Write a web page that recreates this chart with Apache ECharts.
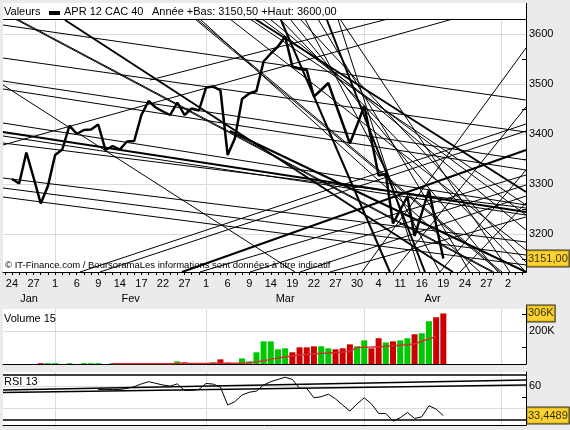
<!DOCTYPE html>
<html><head><meta charset="utf-8">
<script src="https://cdn.jsdelivr.net/npm/echarts@6/dist/echarts.min.js"></script>
<style>html,body{margin:0;padding:0;background:#ebebeb;}#c{width:570px;height:430px;}</style>
</head><body><div id="c"></div>
<script>
// ---- data ----
const tradingDays = [
 '01-23','01-24','01-25','01-26','01-27','01-30','01-31',
 '02-01','02-02','02-03','02-06','02-07','02-08','02-09','02-10','02-13','02-14','02-15','02-16','02-17','02-20','02-21','02-22','02-23','02-24','02-27','02-28','02-29',
 '03-01','03-02','03-05','03-06','03-07','03-08','03-09','03-12','03-13','03-14','03-15','03-16','03-19','03-20','03-21','03-22','03-23','03-26','03-27','03-28','03-29','03-30',
 '04-02','04-03','04-04','04-05','04-10','04-11','04-12','04-13','04-16','04-17','04-18','04-19','04-20','04-23','04-24','04-25','04-26','04-27','04-30',
 '05-01','05-02','05-03','05-04'];
const monthNames = {'01':'Jan','02':'Fev','03':'Mar','04':'Avr'};
const closePrice = [null,3310,3301,3363,3313,3261,3296,3358,3369,3417,3400,3408,3409,3419,3368,3376,3369,3385,3386,3438,3466,
 3453,3445,3438,3463,3438,3451,3447,3493,3495,3487,3358,3391,3470,3481,3486,3545,3561,3575,3595,3535,
 3530,3528,3475,3488,3502,3461,3421,3381,3418,3456,3388,3317,3320,3221,3248,3275,3196,3242,3288,3218,3151];
const volumeK = [null,null,null,null,null,5,5,5,null,5,null,5,5,5,null,5,null,null,null,null,null,null,null,null,
 16,10,null,null,null,10,28,8,6,34,16,71,137,137,89,95,71,101,101,107,107,95,89,95,119,107,143,95,156,131,137,143,156,180,186,259,283,306];
const volumeMA = [null,null,null,null,null,null,null,null,null,null,null,null,null,null,null,2,2,2,2,2,2,2,2,2,
 3,3,3,3,3,4,4,4,4,6,8,12,20,28,37,42,49,55,59,62,64,66,69,72,76,100,102,103,105,107,110,113,116,122,138,152,166];
const rsi = [null,null,null,null,null,null,null,null,null,null,null,null,null,57,57,57,57,58,59.5,62,64,62.5,61,60,62,
 56,56.2,57,62.4,61.8,59,43,46,52,54.5,55.5,61,64,66,68,66,58,57.9,49.5,50.4,52.8,48.5,43,37.5,44,49.5,44,35.4,35.4,28.5,31.5,36.3,30.9,32.4,42.3,39.3,33.4489];
const priceTicks = [3200,3300,3400,3500,3600];
const priceMinorTicks = [3150,3200,3250,3300,3350,3400,3450,3500,3550,3600];
const volumeTicks = [100,200,300];
const volumeLabels = [200];
const rsiTicks = [40,50,60];
const rsiLabels = [60];
const rsiGrid = [40,60];
const rsiBands = [70,30];
// trendlines [dayIdx1, value1, dayIdx2, value2]
const thinLines = [
 [-0.25,3618,72.5,3468],[-0.25,3552,72.5,3404],[-0.25,3506,72.5,3348],[-0.25,3490,72.5,3328],
 [-0.25,3422,72.5,3258],[-0.25,3396,72.5,3238],[-0.25,3382,72.5,3252],[-0.25,3312,72.5,3184],
 [-0.25,3292,72.5,3158],[-0.25,3274,72.5,3138],[-0.25,3498,41,3118],[-0.25,3378,62.33,3630],
 [20.19,3508,53.29,3630],[10.46,3124,72.5,3420],[13.24,3124,72.5,3406],
 [26.45,3630,68.87,3124],[26.73,3630,69.15,3124],[1.42,3630,67.76,3124],[1.70,3630,68.04,3124],
 [34.1,3630,72.5,3258],[35.77,3630,72.5,3238],[36.88,3630,72.5,3208],[41.06,3630,72.5,3144],
 [41.75,3630,60.52,3124],[43.56,3630,64.7,3124],[46.62,3630,70.26,3124],[46.34,3630,57.74,3124],
 [31.32,3630,72.5,3168],[27.14,3630,66.09,3124],[38.27,3630,72.5,3124],[39.66,3630,68.6,3124],
 [49.68,3124,72.5,3572],[53.98,3124,72.5,3454],[27.14,3124,72.5,3318],[34.1,3124,72.5,3298],
 [41.06,3124,72.5,3276],[45.23,3124,72.5,3234],[60.52,3124,72.5,3328],[63.31,3124,72.5,3262]
];
const thickLines = [
 [8.37,3628,62.33,3124],[34.8,3630,72.5,3284],[38.41,3628,53.57,3124],[44.81,3628,58.44,3124],
 [24.64,3124,72.5,3368],[-0.25,3404,72.5,3244],[31.32,3406,72.5,3124]
];
const rsiTrend = [[-0.25,56.4,72.5,65.4],[-0.25,54.3,72.5,60.9]];
const headerTitle = 'APR 12 CAC 40';
const headerStats = 'Année +Bas: 3150,50 +Haut: 3600,00';

// ---- derived ----
const X_MIN = -0.25, X_MAX = 72.5;
const FONT = 'Liberation Sans, Arial, sans-serif';
const allIdx = tradingDays.map((d,i)=>i);
const labelIdx = allIdx.filter(i => i>=1 && (i-1)%3===0);
const monthStarts = [];
tradingDays.forEach((d,i)=>{ if(i>0 && d.slice(0,2)!==tradingDays[i-1].slice(0,2)) monthStarts.push(i); });
const monthKeys = Object.keys(monthNames);
const monthCenters = monthKeys.map((m,k)=>{
  const s = k===0 ? X_MIN : monthStarts[k-1];
  const e = monthStarts[k];
  return (s+e)/2;
});
const pairs = arr => arr.map((v,i)=>v==null?null:[i,v]).filter(Boolean);
const toLines = arr => arr.map(l=>({coords:[[l[0],l[1]],[l[2],l[3]]]}));
const lastPrice = closePrice[closePrice.length-1];
const maxVol = Math.max(...volumeK.filter(v=>v!=null));
const lastRsi = rsi[rsi.length-1];

const GRID = '#dadada';
function gridSeries(xi, yi, yVals){
  return {type:'line', xAxisIndex:xi, yAxisIndex:yi, data:[], z:2, silent:true, clip:false,
    markLine:{silent:true, symbol:['none','none'], animation:false, label:{show:false}, z:1,
      lineStyle:{color:GRID, width:1, type:'solid'},
      data:[...yVals.map(v=>({yAxis:v})), ...monthStarts.map(i=>({xAxis:i}))]}};
}
// value box at the right of an axis: an invisible point with a boxed label, placed through the axes
function boxSeries(xi, yi, value, text){
  return {type:'scatter', xAxisIndex:xi, yAxisIndex:yi, z:20, zlevel:1, silent:true, clip:false,
    symbol:'rect', symbolSize:[2,2], itemStyle:{color:'rgba(255,255,255,0)'},
    label:{show:true, position:'right', distance:0, formatter:text, backgroundColor:'#ffcc00',
      borderColor:'#000', borderWidth:1, padding:[3,1,2,1], color:'#000', fontSize:11, fontFamily:FONT},
    labelLayout:{hideOverlap:false},
    data:[[X_MAX, value]]};
}
const xBase = {type:'value', min:X_MIN, max:X_MAX, splitLine:{show:false}};
const yLine = {show:true, onZero:false, lineStyle:{color:'#000'}};
const option = {
  animation:false,
  backgroundColor:'#ebebeb',
  textStyle:{fontFamily:FONT},
  grid:[
    {left:3, right:44, top:19, height:253, show:true, backgroundColor:'#fff', borderWidth:0},
    {left:3, right:44, top:309, height:55, show:true, backgroundColor:'#fff', borderWidth:0},
    {left:3, right:44, top:372, height:53, show:true, backgroundColor:'#fff', borderWidth:0}
  ],
  xAxis:[
    Object.assign({}, xBase, {gridIndex:0, position:'bottom',
      axisLine:{show:true, onZero:false, lineStyle:{color:'#000', width:1}},
      axisTick:{show:true, customValues:allIdx, length:3, lineStyle:{color:'#000'}},
      axisLabel:{show:true, customValues:labelIdx, margin:6, color:'#000', fontSize:11, fontFamily:FONT,
        formatter:v=>String(parseInt(tradingDays[Math.round(v)].slice(3),10))}}),
    Object.assign({}, xBase, {gridIndex:1, position:'bottom', axisLine:{show:true, onZero:false, lineStyle:{color:'#000'}}, axisTick:{show:false}, axisLabel:{show:false}}),
    Object.assign({}, xBase, {gridIndex:2, position:'bottom', axisLine:{show:true, onZero:false, lineStyle:{color:'#000'}}, axisTick:{show:false}, axisLabel:{show:false}}),
    Object.assign({}, xBase, {gridIndex:0, position:'bottom', offset:15, axisLine:{show:false, onZero:false}, axisTick:{show:false},
      axisLabel:{show:true, customValues:monthCenters, margin:6, color:'#000', fontSize:11, fontFamily:FONT,
        formatter:v=>{ const k = monthCenters.findIndex(c=>Math.abs(c-v)<0.01); return monthNames[monthKeys[k]]||''; }}})
  ],
  yAxis:[
    {type:'value', gridIndex:0, position:'right', min:3124, max:3630, splitLine:{show:false},
      axisLine:yLine,
      axisTick:{show:true, inside:true, length:4, customValues:priceMinorTicks, lineStyle:{color:'#000'}},
      axisLabel:{show:true, customValues:priceTicks, margin:3, color:'#000', fontSize:11, fontFamily:FONT, formatter:v=>String(v)}},
    {type:'value', gridIndex:1, position:'right', min:0, max:333, splitLine:{show:false},
      axisLine:yLine,
      axisTick:{show:true, inside:true, length:4, customValues:volumeTicks, lineStyle:{color:'#000'}},
      axisLabel:{show:true, customValues:volumeLabels, margin:3, color:'#000', fontSize:11, fontFamily:FONT, formatter:v=>v+'K'}},
    {type:'value', gridIndex:2, position:'right', min:25, max:72.7, splitLine:{show:false},
      axisLine:yLine,
      axisTick:{show:true, inside:true, length:4, customValues:rsiTicks, lineStyle:{color:'#000'}},
      axisLabel:{show:true, customValues:rsiLabels, margin:3, color:'#000', fontSize:11, fontFamily:FONT, formatter:v=>String(v)}}
  ],
  graphic:[
    {type:'rect', shape:{x:3,y:3,width:523,height:16}, style:{fill:'#fff'}, z:0, silent:true},
    {type:'line', shape:{x1:3,y1:19.5,x2:526,y2:19.5}, style:{stroke:'#000', lineWidth:1}, z:5, silent:true},
    {type:'line', shape:{x1:526.5,y1:3,x2:526.5,y2:20}, style:{stroke:'#000', lineWidth:1}, z:5, silent:true},
    {type:'text', x:4, y:6, style:{text:'Valeurs', font:'11px '+FONT, fill:'#000'}, z:5, silent:true},
    {type:'rect', shape:{x:49,y:11,width:11,height:4}, style:{fill:'#000'}, z:5, silent:true},
    {type:'text', x:64, y:6, style:{text:headerTitle, font:'11px '+FONT, fill:'#000'}, z:5, silent:true},
    {type:'text', x:152, y:6, style:{text:headerStats, font:'11px '+FONT, fill:'#000'}, z:5, silent:true},
    {type:'text', x:5, y:260, style:{text:'© IT-Finance.com / BoursoramaLes informations sont données à titre indicatif', font:'9.5px '+FONT, fill:'#000'}, z:2, silent:true},
    {type:'text', x:4, y:313, style:{text:'Volume 15', font:'11px '+FONT, fill:'#000'}, z:5, silent:true},
    {type:'text', x:4, y:376, style:{text:'RSI 13', font:'11px '+FONT, fill:'#000'}, z:5, silent:true}
  ],
  series:[
    gridSeries(0,0,priceTicks),
    {type:'lines', coordinateSystem:'cartesian2d', xAxisIndex:0, yAxisIndex:0, clip:true, silent:true, z:3,
      lineStyle:{color:'#000', width:1, opacity:1, curveness:0}, data:toLines(thinLines)},
    {type:'lines', coordinateSystem:'cartesian2d', xAxisIndex:0, yAxisIndex:0, clip:true, silent:true, z:3,
      lineStyle:{color:'#000', width:2, opacity:1, curveness:0}, data:toLines(thickLines)},
    {type:'line', xAxisIndex:0, yAxisIndex:0, data:pairs(closePrice), symbol:'none', z:4, silent:true,
      lineStyle:{color:'#000', width:2.5}},
    boxSeries(0,0,lastPrice, lastPrice.toFixed(2).replace('.',',')),
    gridSeries(1,1,volumeLabels),
    {type:'bar', xAxisIndex:1, yAxisIndex:1, barWidth:6, z:3, silent:true,
      data:volumeK.map((v,i)=>v==null?null:{value:[i,v], itemStyle:{color:(closePrice[i]>=closePrice[i-1])?'#00c800':'#cc0000'}}).filter(Boolean)},
    {type:'line', xAxisIndex:1, yAxisIndex:1, data:pairs(volumeMA), symbol:'none', z:4, silent:true,
      lineStyle:{color:'#d03030', width:1.5}},
    boxSeries(1,1,maxVol, maxVol+'K'),
    gridSeries(2,2,rsiGrid),
    {type:'line', xAxisIndex:2, yAxisIndex:2, data:[], z:3, silent:true,
      markLine:{silent:true, symbol:['none','none'], animation:false, label:{show:false},
        lineStyle:{color:'#000', width:1.5, type:'solid'}, data:rsiBands.map(v=>({yAxis:v}))}},
    {type:'lines', coordinateSystem:'cartesian2d', xAxisIndex:2, yAxisIndex:2, clip:true, silent:true, z:3,
      lineStyle:{color:'#000', width:1.5, opacity:1, curveness:0}, data:toLines(rsiTrend)},
    {type:'line', xAxisIndex:2, yAxisIndex:2, data:pairs(rsi), symbol:'none', z:4, silent:true,
      lineStyle:{color:'#000', width:1}},
    boxSeries(2,2,lastRsi, lastRsi.toFixed(4).replace('.',','))
  ]
};
const chart = echarts.init(document.getElementById('c'), null, {renderer:'canvas'});
chart.setOption(option);
</script>
</body></html>
